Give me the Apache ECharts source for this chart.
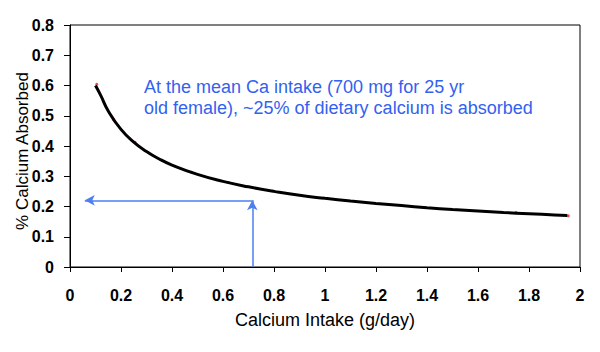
<!DOCTYPE html>
<html>
<head>
<meta charset="utf-8">
<script src="https://cdn.jsdelivr.net/npm/echarts@6/dist/echarts.min.js"></script>
<style>
  html, body { margin: 0; padding: 0; background: #fff; }
  #chart { width: 600px; height: 352px; }
</style>
</head>
<body>
<div id="chart"></div>
<script>
// curve (intake g/day, fraction absorbed)
var curveX = [0.10, 0.12, 0.15, 0.20, 0.25, 0.30, 0.35, 0.40, 0.50, 0.60, 0.70, 0.80, 0.90, 1.00,
  1.10, 1.20, 1.30, 1.40, 1.50, 1.60, 1.70, 1.80, 1.90, 1.95];
var curveY = [0.600, 0.568, 0.516, 0.455, 0.413, 0.382, 0.357, 0.337, 0.306, 0.283, 0.265, 0.250, 0.237, 0.227,
  0.218, 0.210, 0.203, 0.196, 0.190, 0.185, 0.180, 0.176, 0.172, 0.170];
// small red data markers under the line
var dotX = [0.105, 0.17, 0.255, 0.477, 0.621, 0.797, 1.749, 1.954];
var dotY = [0.604, 0.488, 0.412, 0.313, 0.279, 0.251, 0.180, 0.169];
// arrow: mean intake and matching absorption
var meanIntake = 0.715;
var meanAbsorbed = 0.2205;
var arrowLeftEnd = 0.058;
var note = ['At the mean Ca intake (700 mg for 25 yr', 'old female), ~25% of dietary calcium is absorbed'];

var chart = echarts.init(document.getElementById('chart'), null, { renderer: 'svg' });
var font = 'Arial, "Liberation Sans", sans-serif';
var arrowBlue = '#4d7ff2';

chart.setOption({
  animation: false,
  grid: {
    left: 70, right: 20, top: 25, bottom: 85, outerBoundsMode: 'none',
    show: true, borderColor: '#000', borderWidth: 1
  },
  xAxis: {
    type: 'value', min: 0, max: 2, interval: 0.2,
    name: 'Calcium Intake (g/day)', nameLocation: 'middle', nameGap: 44, nameMoveOverlap: false,
    nameTextStyle: { color: '#000', fontSize: 18, fontFamily: font },
    axisLine: { lineStyle: { color: '#000', width: 1 } },
    axisTick: { show: true, inside: false, length: 5, lineStyle: { color: '#000' } },
    axisLabel: { color: '#000', fontSize: 16, fontWeight: 'bold', fontFamily: font, margin: 20 },
    splitLine: { show: false }
  },
  yAxis: {
    type: 'value', min: 0, max: 0.8, interval: 0.1,
    name: '% Calcium Absorbed', nameLocation: 'middle', nameGap: 39, nameMoveOverlap: false,
    nameTextStyle: { color: '#000', fontSize: 17, fontFamily: font, padding: [0, 0, 0, -10] },
    axisLine: { show: true, lineStyle: { color: '#000', width: 1 } },
    axisTick: { show: true, inside: false, length: 6, lineStyle: { color: '#000' } },
    axisLabel: { color: '#000', fontSize: 16, fontWeight: 'bold', fontFamily: font, margin: 16 },
    splitLine: { show: false }
  },
  series: [
    {
      type: 'scatter', z: 1, symbol: 'circle', symbolSize: 3,
      itemStyle: { color: '#e0202a' },
      data: dotX.map(function(x, i) { return [x, dotY[i]]; })
    },
    {
      type: 'line', z: 2, smooth: true, showSymbol: false,
      lineStyle: { color: '#000', width: 3 },
      data: curveX.map(function(x, i) { return [x, curveY[i]]; }),
      markLine: {
        silent: true, symbol: ['none', 'arrow'], symbolSize: [8, 10],
        lineStyle: { color: arrowBlue, width: 1.5, type: 'solid' },
        label: { show: false },
        data: [
          [{ coord: [meanIntake, 0] }, { coord: [meanIntake, meanAbsorbed] }],
          [{ coord: [meanIntake, meanAbsorbed] }, { coord: [arrowLeftEnd, meanAbsorbed] }]
        ]
      }
    }
  ],
  graphic: [{
    type: 'text', left: 144, top: 76,
    style: {
      text: note.join('\n'), fill: '#3361f0', fontSize: 18, fontFamily: font, lineHeight: 21
    }
  }]
});
</script>
</body>
</html>
